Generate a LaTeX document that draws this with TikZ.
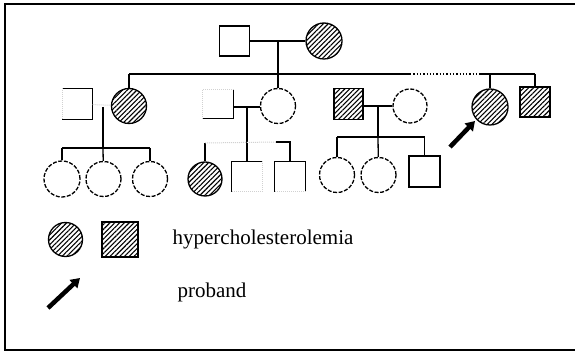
\documentclass[tikz,border=0pt]{standalone}
\usepackage{fontspec}
\setmainfont{Liberation Serif}
\usetikzlibrary{arrows.meta,patterns.meta}

\begin{document}
\begin{tikzpicture}[x=1pt,y=-1pt,line width=1.3pt,
	male/.style={rectangle,draw,minimum width=30pt,minimum height=30pt,inner sep=0pt},
	bare/.style={rectangle,minimum width=30pt,minimum height=30pt,inner sep=0pt},
	female/.style={circle,draw,dash pattern=on 4pt off 1.6pt,minimum size=35pt,inner sep=0pt},
	ill/.style={solid,pattern={Lines[angle=45,distance=3.4pt,line width=1.1pt]}},
	faded/.style={draw=black!18,line width=1pt,densely dotted},
	pointer/.style={line width=4.5pt,-{Triangle[length=9pt,width=11pt]}},
	legendtext/.style={anchor=base west,inner sep=0pt,font=\fontsize{21}{25}\selectfont}]

	\useasboundingbox (0,0) rectangle (575,352);
	\draw [line width=1.6pt] (5,4) rectangle (578,350);

	% generation I
	\node [male] (v1) at (234.5,41) {};
	\node [female,ill,minimum size=36pt] (v2) at (324,41) {};
	\draw (v1) -- (v2);
	\coordinate (c1) at (278,41);
	\coordinate (s1) at (278,74);
	\draw (c1) -- (s1);

	% sibship of generation II
	\coordinate (s2) at (129,74);
	\coordinate (s3) at (410,74);
	\coordinate (s4) at (480,74);
	\coordinate (s5) at (490,74);
	\coordinate (s6) at (535,74);
	\draw (s2) -- (s3);
	\draw [dotted] (s3) -- (s4);
	\draw (s4) -- (s6);

	% generation II
	\node [bare,minimum width=29pt] (v3) at (77.5,104) {};
	\draw (v3.north west) -- (v3.north east) -- (v3.south east) -- (v3.south west);
	\draw [faded] (v3.north west) -- (v3.south west);
	\node [female,ill] (v4) at (129,106) {};
	\draw (s2) -- (v4);
	\draw [faded] (v3) -- (v4);

	\node [bare,minimum height=28pt] (v5) at (218,104) {};
	\draw (v5.north east) -- (v5.south east) -- (v5.south west);
	\draw [faded] (v5.south west) -- (v5.north west) -- (v5.north east);
	\node [female] (v6) at (278,106) {};
	\draw (s1) -- (v6);
	\draw (v5.east |- 0,107) -- (v6.west |- 0,107);

	\node [male,ill,minimum width=29pt,minimum height=31pt] (v7) at (348.5,104) {};
	\node [female,minimum size=34pt] (v8) at (410,106) {};
	\draw (v7.east |- 0,106) -- (v8);

	\node [female,ill,minimum size=36pt] (v9) at (490,107) {};
	\node [male,ill] (v10) at (535,102) {};
	\draw (s5) -- (v9);
	\draw (s6) -- (v10);

	% generation III, left family
	\coordinate (c2) at (103,107);
	\coordinate (s7) at (103,148);
	\draw (c2) -- (s7);
	\coordinate (s8) at (62,148);
	\coordinate (s9) at (150,148);
	\draw (s8) -- (s9);
	\node [female,minimum size=36pt] (v11) at (62,179) {};
	\node [female] (v12) at (103.5,179) {};
	\node [female] (v13) at (150,179) {};
	\draw (s8) -- (v11);
	\draw (s7) -- (v12);
	\draw (s9) -- (v13);

	% generation III, middle family
	\coordinate (c3) at (247,107);
	\coordinate (s10) at (205,143);
	\coordinate (s11) at (276,142);
	\coordinate (s12) at (290,142);
	\node [female,ill,minimum size=34pt] (v14) at (205,179) {};
	\node [bare,minimum height=29pt] (v15) at (247,176.5) {};
	\node [bare,minimum height=29pt] (v16) at (290,176.5) {};
	\draw (c3) -- (v15.north);
	\draw (s10) -- (v14);
	\draw [faded] (s10) -- (s11);
	\draw (s11) -- (s12) -- (v16.north);
	\draw (v15.south west) -- (v15.north west) -- (v15.north east);
	\draw [faded] (v15.north east) -- (v15.south east) -- (v15.south west);
	\draw (v16.south west) -- (v16.north west) -- (v16.north east) -- (v16.south east);
	\draw [faded] (v16.south east) -- (v16.south west);

	% generation III, right family
	\coordinate (c4) at (378,106);
	\coordinate (s13) at (378,137);
	\coordinate (s14) at (337,137);
	\coordinate (s15) at (424.5,137);
	\draw (c4) -- (s13);
	\draw (s14) -- (s15);
	\node [female] (v17) at (337,175) {};
	\node [female] (v18) at (378.5,175) {};
	\node [male,minimum width=31pt,minimum height=31pt] (v19) at (424.5,171.5) {};
	\draw (s14) -- (v17);
	\draw (s13) -- (v18);
	\draw (s15) -- (v19);

	% proband arrow
	\coordinate (a1) at (450,147);
	\coordinate (a2) at (475,121);
	\draw [pointer] (a1) -- (a2);

	% legend
	\node [female,ill,minimum size=34pt] (v20) at (65.5,239.5) {};
	\node [male,ill,minimum width=36pt,minimum height=35pt] (v21) at (120,239.5) {};
	\node [legendtext] (t1) at (172,245) {hypercholesterolemia};
	\coordinate (a3) at (48,308);
	\coordinate (a4) at (80,278);
	\draw [pointer] (a3) -- (a4);
	\node [legendtext] (t2) at (177,298) {proband};

\end{tikzpicture}
\end{document}
